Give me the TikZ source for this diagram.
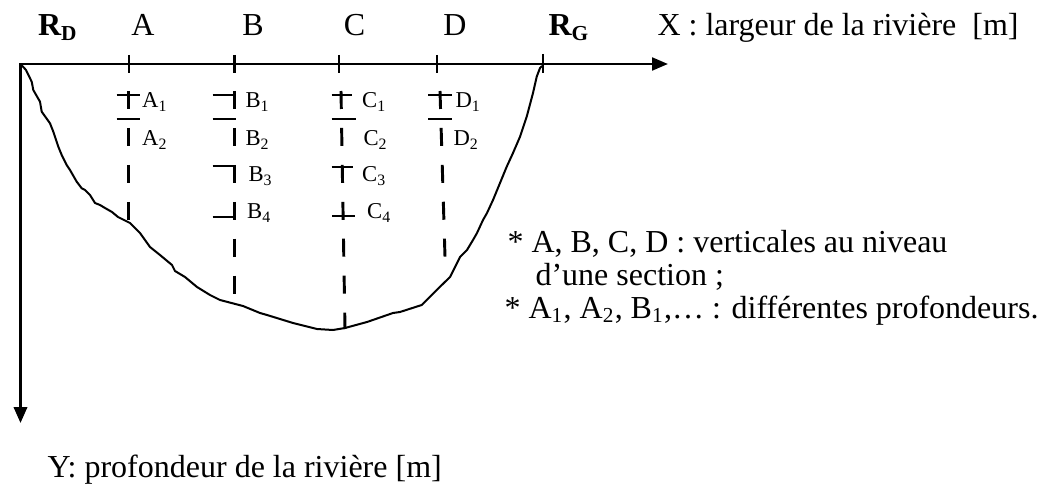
\documentclass[tikz,border=0pt]{standalone}
\usepackage{fontspec}
\setmainfont{Liberation Serif}
\usetikzlibrary{arrows.meta}

\begin{document}
\begin{tikzpicture}[
        x=0.375pt,y=-0.375pt,
        font=\fontsize{12}{14}\selectfont,
        axis/.style={{Triangle[length=6pt,width=4.8pt]}-{Triangle[length=6pt,width=5pt]},line width=1pt},
        tick/.style={line width=0.9pt},
        vert/.style={line width=1.1pt,dash pattern=on 6.75pt off 7.1pt},
        bar/.style={line width=1.1pt},
        bed/.style={line width=0.75pt,line join=round},
        lbl/.style={anchor=base west,inner sep=0pt},
        head/.style={anchor=base,inner sep=0pt},
        depth/.style={anchor=base west,inner sep=0pt,font=\fontsize{8.5}{10}\selectfont}
      ]
        \useasboundingbox (0,0) rectangle (1046,484);
        \coordinate (O) at (20.5,64);
        \coordinate (xend) at (668,64);
        \coordinate (yend) at (20.5,423);
        \draw[axis] (xend) -- (O) -- (yend);
        \draw[tick] (128.7,55) -- (128.7,73);
        \draw[tick] (234.5,55) -- (234.5,73);
        \draw[tick] (339,55) -- (339,73);
        \draw[tick] (436.7,55) -- (436.7,73);
        \draw[tick] (542.7,54) -- (542.7,73);
        \node[lbl] (rd) at (37.5,36) {\textbf{R\textsubscript{D}}};
        \node[head] (ha) at (143,36) {A};
        \node[head] (hb) at (253,36) {B};
        \node[head] (hc) at (354.6,36) {C};
        \node[head] (hd) at (455,36) {D};
        \node[lbl] (rg) at (548,36) {\textbf{R\textsubscript{G}}};
        \node[lbl] (xlab) at (657,36) {X : largeur de la rivière~~[m]};
        \node[lbl] (ylab) at (47,477) {Y: profondeur de la rivière [m]};
        \draw[bed] (O) -- (26,70) -- (31.7,81.7) -- (33.3,90) -- (40,101.7) -- (41.7,111.7)
          -- (50,123.3) -- (53.3,131.7) -- (58.3,146.7) -- (61.7,155) -- (66.7,165) -- (70,170)
          -- (76.7,181.7) -- (81.7,188.3) -- (85,190) -- (90,195) -- (95,203) -- (100,205)
          -- (105,208) -- (112,212) -- (118,217) -- (130,223) -- (140,233) -- (150,247)
          -- (160,255) -- (172,265) -- (175,271) -- (185,277) -- (197,287) -- (210,295)
          -- (220,300) -- (243,306) -- (260,313) -- (267,315) -- (293,323) -- (317,329)
          -- (333,330) -- (345,328) -- (367,322) -- (393,313) -- (400,312) -- (421.7,305)
          -- (436.7,290) -- (450,277) -- (460,257) -- (467,250) -- (473,240) -- (477,233)
          -- (483,220) -- (487,213) -- (493,200) -- (500,183) -- (506.7,166.7) -- (513,153)
          -- (520,136.7) -- (526.7,116.7) -- (533,93) -- (536.7,76.7) -- (540,68) -- (542,66);
        \draw[vert] (128.5,91) -- (128.5,220);
        \draw[vert] (234.5,91) -- (234.5,294);
        \draw[vert] (341,91) -- (345,329);
        \draw[vert] (440,91) -- (445,257);
        \draw[bar] (116.7,95) -- (140,95) (116.7,119) -- (140,119);
        \draw[bar] (212.7,95) -- (234.5,95) (212.7,119) -- (236,119)
          (212.7,166) -- (235,166) (212.7,217) -- (235,217);
        \draw[bar] (331.7,95) -- (351.7,95) (331.7,119) -- (356,119)
          (331.7,167) -- (353,167) (332,216) -- (355,216);
        \draw[bar] (428,95) -- (451.7,95) (428,119) -- (451.7,119);
        \node[depth] (a1) at (141.7,108) {A\textsubscript{1}};
        \node[depth] (a2) at (141.7,146) {A\textsubscript{2}};
        \node[depth] (b1) at (245,108) {B\textsubscript{1}};
        \node[depth] (b2) at (245,146) {B\textsubscript{2}};
        \node[depth] (b3) at (248,182) {B\textsubscript{3}};
        \node[depth] (b4) at (246.7,219) {B\textsubscript{4}};
        \node[depth] (c1) at (361.7,108) {C\textsubscript{1}};
        \node[depth] (c2) at (363,146) {C\textsubscript{2}};
        \node[depth] (c3) at (361.7,182) {C\textsubscript{3}};
        \node[depth] (c4) at (366.7,219) {C\textsubscript{4}};
        \node[depth] (d1) at (455,108) {D\textsubscript{1}};
        \node[depth] (d2) at (453,146) {D\textsubscript{2}};
        \node[lbl] (note1) at (507,252) {* A, B, C, D : verticales au niveau};
        \node[lbl] (note2) at (535,285) {d’une section ;};
        \node[lbl] (note3) at (504,318) {* A\textsubscript{1}, A\textsubscript{2}, B\textsubscript{1},… : différentes profondeurs.};
      \end{tikzpicture}
\end{document}
